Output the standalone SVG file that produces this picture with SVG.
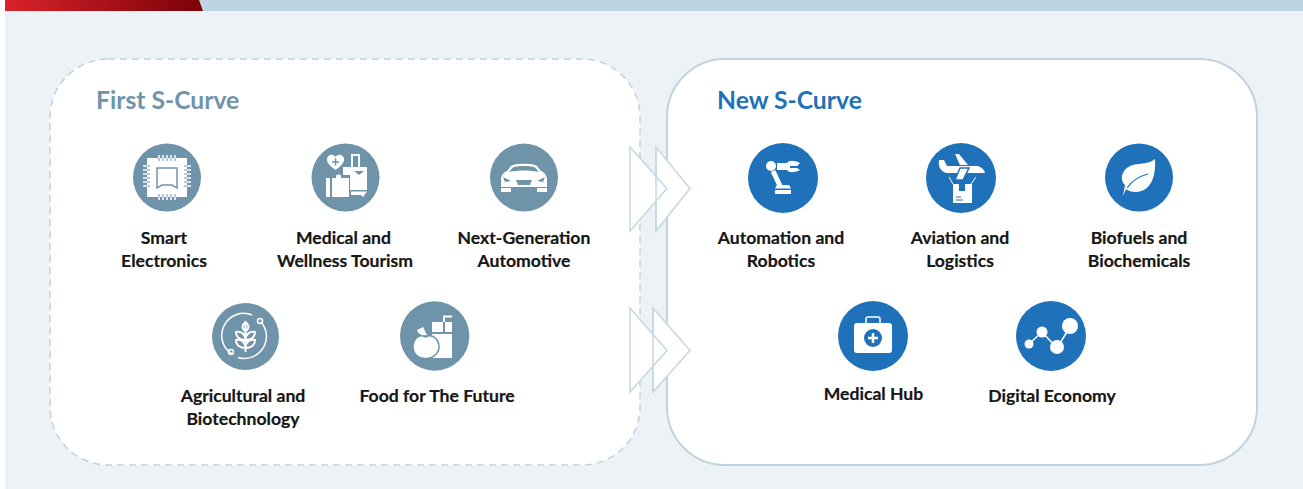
<svg xmlns="http://www.w3.org/2000/svg" width="1303" height="489" viewBox="0 0 1303 489">
<defs>
<linearGradient id="red" x1="0" x2="1" y1="0" y2="0"><stop offset="0" stop-color="#d9222b"/><stop offset="1" stop-color="#7a0206"/></linearGradient>
</defs>
<style>
text{font-family:Lato,"Liberation Sans",sans-serif;font-weight:700}
.l{font-size:17.6px;fill:#161616;text-anchor:middle;stroke:#161616;stroke-width:.2px}
.h{font-size:24.7px}
.g{fill:#6f94aa}.b{fill:#1f72ba}
.w{fill:#fff}.s{fill:none;stroke:#fff;stroke-width:1.5}
.a{fill:#fff;stroke:#c5d7e1;stroke-width:1.5}
.e{fill:none;stroke:#c5d7e1;stroke-width:1.5}
</style>
<rect x="5" y="0" width="1298" height="489" fill="#ecf2f5"/>
<rect x="5" y="0" width="1298" height="11" fill="#bed4e3"/>
<path d="M5 0H199L203 11H5Z" fill="url(#red)"/>
<g id="first-panel"><rect x="50" y="59" width="590" height="406" rx="58" fill="#fff" stroke="#c0d3de" stroke-width="1.5" stroke-dasharray="7 5"/><text class="h" x="96" y="109" fill="#6f94aa">First S-Curve</text></g>
<g id="new-panel"><rect x="667" y="59" width="590" height="406" rx="58" fill="#fff" stroke="#c0d3de" stroke-width="2"/><text class="h" x="717" y="109" fill="#1f72ba">New S-Curve</text></g>
<g id="connectors">
<path class="a" d="M656 147L690 188.500L656 231Z"/><path class="a" d="M630 147L667 188.500L630 231Z"/><path class="e" d="M656 147V231"/>
<path class="a" d="M653 308L690 350.500L653 392Z"/><path class="a" d="M630 308L667 350.500L630 392Z"/><path class="e" d="M653 308V392"/>
</g>
<g id="smart-electronics"><circle class="g" cx="167" cy="177.500" r="34"/>
<path class="w" d="M147 158H187V197H147Z"/><path d="M157 168H177V188L172 185H162L157 188Z" fill="#fff" stroke="#6f94aa" stroke-width="1.500"/>
<path d="M159 155V162M163 155V162M167 155V162M171 155V162M175 155V162M159 193V200M163 193V200M167 193V200M171 193V200M175 193V200M143 166H150M143 170H150M143 174H150M143 178H150M143 182H150M143 186H150M184 166H191M184 170H191M184 174H191M184 178H191M184 182H191M184 186H191" stroke="#fff" stroke-width="1.500"/>
<path d="M159 158V161M163 158V161M167 158V161M171 158V161M175 158V161M159 194V197M163 194V197M167 194V197M171 194V197M175 194V197M147 166H150M147 170H150M147 174H150M147 178H150M147 182H150M147 186H150M184 166H187M184 170H187M184 174H187M184 178H187M184 182H187M184 186H187" stroke="#6f94aa" stroke-width="1"/>
<text class="l"><tspan x="164" y="244">Smart</tspan><tspan x="164" y="267">Electronics</tspan></text></g>
<g id="medical-tourism"><circle class="g" cx="345.500" cy="177.500" r="34"/>
<path class="w" d="M335.500 170C330 166 327 163 327 159.500C327 155 333 153 335.500 157C338 153 344 155 344 159.500C344 163 341 166 335.500 170Z"/><path d="M335.500 158.500V165.500M332 162H339" stroke="#6f94aa" stroke-width="1.500"/>
<rect x="352" y="155" width="7" height="13" fill="none" stroke="#fff" stroke-width="2"/>
<path class="w" d="M343 167H367V190H350V175H343Z"/><path d="M354 171H364L359 175Z" fill="#6f94aa"/>
<path class="w" d="M326 178H330V197H326ZM332 178H336V176C336 174 341 174 341 176V178H349V197H332Z"/><path class="w" d="M351 191.500H367L363 197L361 195H351Z"/>
<text class="l"><tspan x="343.500" y="244">Medical and</tspan><tspan x="345" y="267">Wellness Tourism</tspan></text></g>
<g id="automotive"><circle class="g" cx="524" cy="177.500" r="34"/>
<path class="w" d="M501 180C501 175 504 172 507 171L511 166C514 163 534 163 537 166L541 171C544 172 547 175 547 180V187H501Z"/><path d="M509 172L513 167.500C516 165.500 532 165.500 535 167.500L539 172C530 170 518 170 509 172Z" fill="#6f94aa"/><path d="M503 177L511 181L505 182ZM545 177L537 181L543 182ZM516 180H532L530 185H518Z" fill="#6f94aa"/><rect class="w" x="501" y="188" width="10" height="4"/><rect class="w" x="537" y="188" width="10" height="4"/>
<text class="l" x="524" y="244">Next-Generation</text><text class="l" x="524" y="267">Automotive</text></g>
<g id="agricultural"><circle class="g" cx="245.500" cy="336.500" r="33.500"/>
<path class="s" d="M252 315A22 22 0 0 0 232 354M238 357.500A22 22 0 0 0 261 322"/><circle class="s" cx="260" cy="321" r="2.500"/><circle class="s" cx="231" cy="352" r="2.500"/>
<path class="s" style="stroke-width:2" d="M245.500 352V323M245.500 331C241 328 242 325 245.500 322C249 325 250 328 245.500 331ZM245.500 340C240 340 236 337 236 332C241 331 245.500 334 245.500 340ZM245.500 340C251 340 255 337 255 332C250 331 245.500 334 245.500 340ZM245.500 348C240 348 236 345 236 340C241 339 245.500 342 245.500 348ZM245.500 348C251 348 255 345 255 340C250 339 245.500 342 245.500 348Z"/>
<text class="l" x="243" y="402">Agricultural and</text><text class="l" x="243" y="425">Biotechnology</text></g>
<g id="food"><circle class="g" cx="434.700" cy="336" r="34.700"/>
<rect class="w" x="432" y="334" width="20" height="24"/><rect class="w" x="432" y="322" width="11" height="10"/><rect class="w" x="445" y="322" width="7" height="10"/><path d="M444 322V316.500H452" fill="none" stroke="#fff" stroke-width="1.800"/>
<path class="w" stroke="#6f94aa" stroke-width="1.500" d="M425.500 337C418 333 413 340 413 347C413 354 419 359 425.500 358.500C432 359 439 354 439 347C439 340 433 333 425.500 337Z"/><path class="w" d="M417 330L423 327L427 335C422 336 418 334 417 330Z"/>
<text class="l" x="437" y="402">Food for The Future</text></g>
<g id="robotics"><circle class="b" cx="783" cy="178" r="35"/>
<circle class="w" cx="771" cy="166" r="5"/><path class="w" d="M777 163H787C789 160 794 160 800 163L797 166H790V168H797L800 170C794 173 789 173 787 170H777Z"/><path d="M773 171L780 186" stroke="#fff" stroke-width="5"/><path class="w" d="M777 185H789L791 188.500H775ZM775 190H791V194H775Z"/>
<text class="l" x="781" y="244">Automation and</text><text class="l" x="781" y="267">Robotics</text></g>
<g id="aviation"><circle class="b" cx="961" cy="178" r="35"/>
<path class="w" d="M939 160L944 160L947 166H978C981 167 984 169 985 173H947C941 172 938 167 939 160ZM955 154H959L968 165H960Z"/><path d="M960 168H969L963 180H955Z" fill="#fff" stroke="#1f72ba" stroke-width="1.500"/><path d="M949 177L953 184M976 177L971 184" stroke="#fff" stroke-width="1"/><rect class="w" x="953" y="184" width="19" height="19"/><rect x="959" y="184" width="6" height="7" fill="#1f72ba"/><path d="M956 197H961M956 200H963" stroke="#1f72ba" stroke-width="1"/>
<text class="l" x="960" y="244">Aviation and</text><text class="l" x="960" y="267">Logistics</text></g>
<g id="biofuels"><circle class="b" cx="1139" cy="177.500" r="34"/>
<path class="w" d="M1155 159C1156 175 1152 191 1136 192C1131 192 1128 191 1126 189L1123 196L1125 185C1118 178 1124 167 1133 165C1141 163 1150 164 1155 159Z"/><path d="M1127 188C1132 181 1140 176 1148 174" fill="none" stroke="#1f72ba" stroke-width="1.200"/>
<text class="l" x="1139" y="244">Biofuels and</text><text class="l" x="1139" y="267">Biochemicals</text></g>
<g id="medical-hub"><circle class="b" cx="873" cy="336" r="35"/>
<rect class="w" x="854" y="323" width="38" height="30" rx="3"/><path d="M866 323V319C866 318 867 317 868 317H878C879 317 880 318 880 319V323" fill="none" stroke="#fff" stroke-width="1.500"/><circle cx="873" cy="338" r="9" fill="#1f72ba"/><path d="M873 333V343M868 338H878" stroke="#fff" stroke-width="2.500"/>
<text class="l" x="873.500" y="400">Medical Hub</text></g>
<g id="digital-economy"><circle class="b" cx="1051" cy="336" r="35"/>
<path d="M1029 344L1042 332L1057 348L1070 327" fill="none" stroke="#fff" stroke-width="1.500"/><circle class="w" cx="1029" cy="344" r="4.500"/><circle class="w" cx="1042" cy="332" r="5.500"/><circle class="w" cx="1057" cy="347" r="7"/><circle class="w" cx="1070" cy="326" r="8"/>
<text class="l" x="1052" y="402">Digital Economy</text></g>
</svg>
